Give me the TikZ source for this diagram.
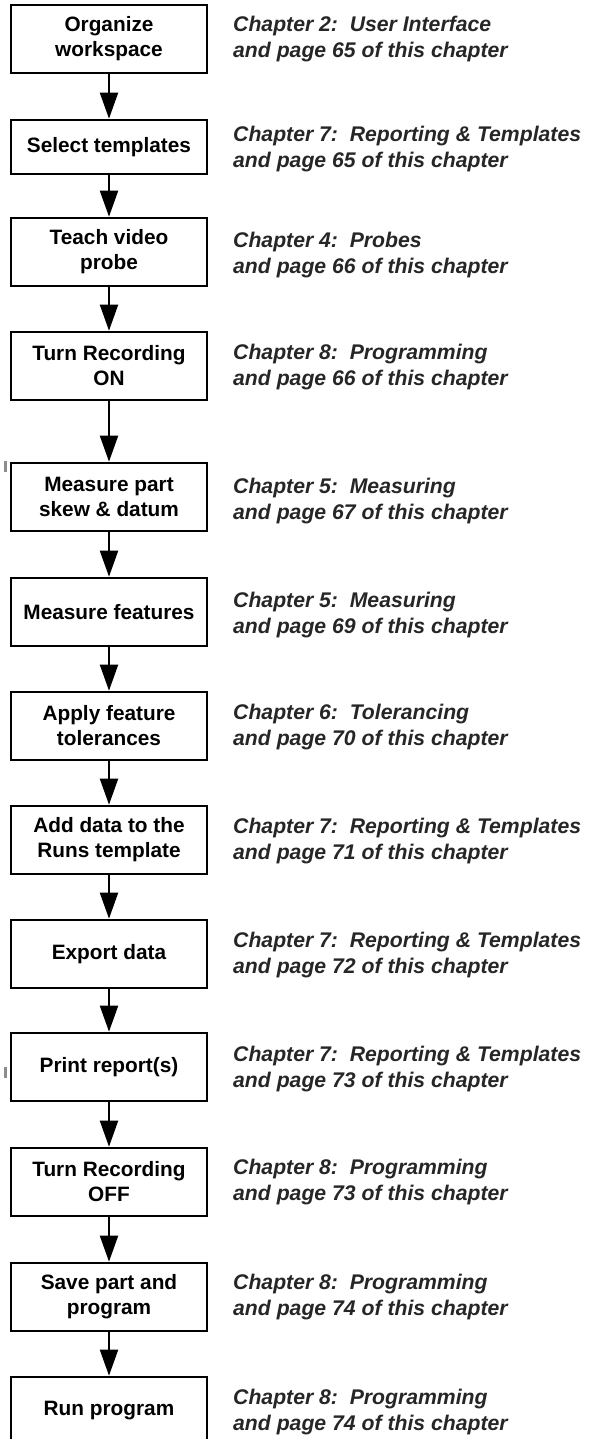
\documentclass[tikz,border=0pt]{standalone}
\usepackage{fontspec}
\setmainfont{Liberation Sans}
\usetikzlibrary{arrows.meta}
\begin{document}
\begin{tikzpicture}[x=1pt,y=-1pt,
  stepbox/.style={draw=black,line width=2.6pt,fill=white,minimum width=196pt,inner sep=0pt,
     align=center,font=\fontsize{20.8}{25}\selectfont\bfseries},
  reflabel/.style={anchor=west,align=left,inner sep=0pt,font=\fontsize{21.2}{26}\selectfont\bfseries\itshape,text=black!85},
  flow/.style={line width=2pt,-{Triangle[length=26pt,width=18pt]}}]
\clip (0,0) rectangle (590,1439);
\fill[white] (0,0) rectangle (590,1439);
% stray scan marks
\fill[black!45] (4,461) rectangle (7,472);
\fill[black!45] (4,1067) rectangle (7,1078);
% boxes
\node[stepbox,minimum height=68pt] (b1) at (109,39) {Organize\\workspace};
\node[stepbox,minimum height=54pt] (b2) at (109,147) {Select templates};
\node[stepbox,minimum height=68pt] (b3) at (109,252) {Teach video\\probe};
\node[stepbox,minimum height=68pt] (b4) at (109,366) {Turn Recording\\ON};
\node[stepbox,minimum height=68pt] (b5) at (109,497) {Measure part\\skew \& datum};
\node[stepbox,minimum height=68pt] (b6) at (109,612) {Measure features};
\node[stepbox,minimum height=68pt] (b7) at (109,726) {Apply feature\\tolerances};
\node[stepbox,minimum height=68pt] (b8) at (109,840) {Add data to the\\Runs template};
\node[stepbox,minimum height=68pt] (b9) at (109,954) {Export data};
\node[stepbox,minimum height=68pt] (b10) at (109,1067) {Print report(s)};
\node[stepbox,minimum height=68pt] (b11) at (109,1182) {Turn Recording\\OFF};
\node[stepbox,minimum height=68pt] (b12) at (109,1297) {Save part and\\program};
\node[stepbox,minimum height=68pt] (b13) at (109,1411) {Run program};
% arrows
\foreach \a/\b in {b1/b2,b2/b3,b3/b4,b4/b5,b5/b6,b6/b7,b7/b8,b8/b9,b9/b10,b10/b11,b11/b12,b12/b13}
  \draw[flow] (\a.south) -- (\b.north);
% labels
\node[reflabel] (l1) at (233,39) {Chapter 2:\ \ User Interface\\and page 65 of this chapter};
\node[reflabel] (l2) at (233,149) {Chapter 7:\ \ Reporting \& Templates\\and page 65 of this chapter};
\node[reflabel] (l3) at (233,255) {Chapter 4:\ \ Probes\\and page 66 of this chapter};
\node[reflabel] (l4) at (233,367) {Chapter 8:\ \ Programming\\and page 66 of this chapter};
\node[reflabel] (l5) at (233,501) {Chapter 5:\ \ Measuring\\and page 67 of this chapter};
\node[reflabel] (l6) at (233,615) {Chapter 5:\ \ Measuring\\and page 69 of this chapter};
\node[reflabel] (l7) at (233,727) {Chapter 6:\ \ Tolerancing\\and page 70 of this chapter};
\node[reflabel] (l8) at (233,841) {Chapter 7:\ \ Reporting \& Templates\\and page 71 of this chapter};
\node[reflabel] (l9) at (233,955) {Chapter 7:\ \ Reporting \& Templates\\and page 72 of this chapter};
\node[reflabel] (l10) at (233,1069) {Chapter 7:\ \ Reporting \& Templates\\and page 73 of this chapter};
\node[reflabel] (l11) at (233,1182) {Chapter 8:\ \ Programming\\and page 73 of this chapter};
\node[reflabel] (l12) at (233,1297) {Chapter 8:\ \ Programming\\and page 74 of this chapter};
\node[reflabel] (l13) at (233,1412) {Chapter 8:\ \ Programming\\and page 74 of this chapter};
\end{tikzpicture}
\end{document}
